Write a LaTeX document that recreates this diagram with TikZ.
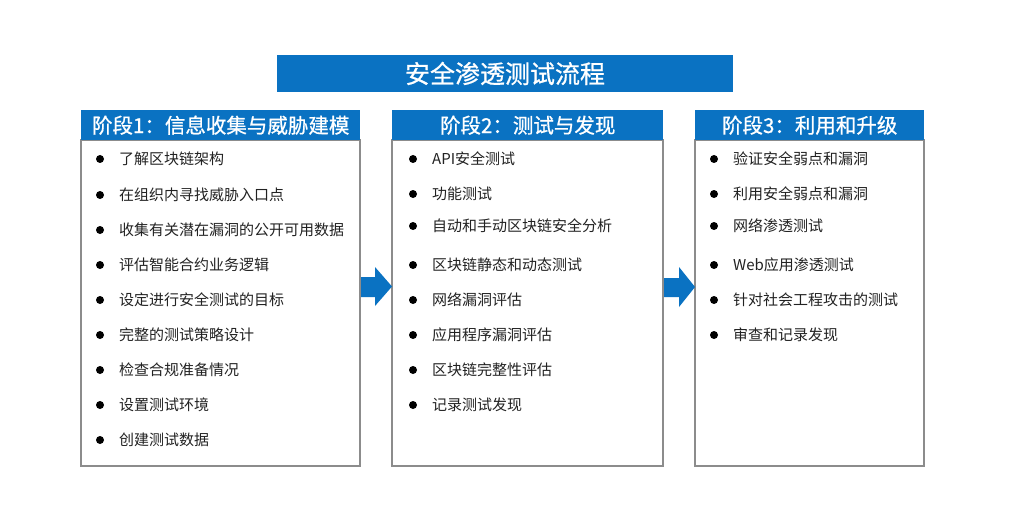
\documentclass[tikz,border=0pt]{standalone}
\usepackage{fontspec}
\setmainfont{Noto Sans CJK SC}
\newfontfamily\hdrfont[FakeBold=0.8]{Noto Sans CJK SC}
\definecolor{hdrblue}{HTML}{0A72C2}
\definecolor{boxgray}{HTML}{8C8C8C}
\definecolor{itemtext}{HTML}{222222}
\begin{document}
\begin{tikzpicture}[x=1pt,y=-1pt,
  hdr/.style={fill=hdrblue,draw=none,inner sep=0pt,anchor=north west},
  hdrtext/.style={text=white,inner sep=0pt,font=\hdrfont\fontsize{20.5}{23}\selectfont},
  body/.style={draw=boxgray,line width=1.3pt,fill=white},
  item/.style={anchor=west,inner sep=0pt,text=itemtext,font=\fontsize{15}{17}\selectfont},
  dot/.style={circle,fill=black,inner sep=0pt,minimum size=8pt},
  flow/.style={fill=hdrblue,draw=none}]
\useasboundingbox (0,0) rectangle (1024,513);
\fill[white] (0,0) rectangle (1024,513);
% title
\node[fill=hdrblue,minimum width=456pt,minimum height=37pt,inner sep=0pt,text=white,font=\hdrfont\fontsize{25}{28}\selectfont] (title) at (505,73.5) {安全渗透测试流程};
% boxes
\draw[body] (81,140) rectangle (360,466);
\draw[body] (392,140) rectangle (663,466);
\draw[body] (695,140) rectangle (924,466);
\node[hdr,minimum width=279pt,minimum height=30pt] (h1) at (81,110) {};
\node[hdrtext] (h1t) at (h1.center) {阶段1：信息收集与威胁建模};
\node[hdr,minimum width=271pt,minimum height=30pt] (h2) at (392,110) {};
\node[hdrtext] (h2t) at (h2.center) {阶段2：测试与发现};
\node[hdr,minimum width=229pt,minimum height=30pt] (h3) at (695,110) {};
\node[hdrtext] (h3t) at (h3.center) {阶段3：利用和升级};
% arrows
\fill[flow] (361,277) -- (375,277) -- (375,267) -- (392,286.5) -- (375,306) -- (375,297) -- (361,297) -- cycle;
\fill[flow] (664,278) -- (679,278) -- (679,267) -- (695,287) -- (679,307) -- (679,297) -- (664,297) -- cycle;
% column 1
\foreach \y/\t [count=\i] in {159/了解区块链架构,195/在组织内寻找威胁入口点,230/收集有关潜在漏洞的公开可用数据,265/评估智能合约业务逻辑,300/设定进行安全测试的目标,335/完整的测试策略设计,370/检查合规准备情况,405/设置测试环境,440/创建测试数据}{
  \node[dot] (a\i) at (100,\y) {};
  \node[item] (at\i) at (119,\y) {\t};
}
% column 2
\foreach \y/\t [count=\i] in {159/API安全测试,194/功能测试,226/自动和手动区块链安全分析,265/区块链静态和动态测试,300/网络漏洞评估,335/应用程序漏洞评估,370/区块链完整性评估,405/记录测试发现}{
  \node[dot] (b\i) at (413,\y) {};
  \node[item] (bt\i) at (432,\y) {\t};
}
% column 3
\foreach \y/\t [count=\i] in {159/验证安全弱点和漏洞,194/利用安全弱点和漏洞,226/网络渗透测试,265/Web应用渗透测试,300/针对社会工程攻击的测试,335/审查和记录发现}{
  \node[dot] (c\i) at (714,\y) {};
  \node[item] (ct\i) at (733,\y) {\t};
}
\end{tikzpicture}
\end{document}
